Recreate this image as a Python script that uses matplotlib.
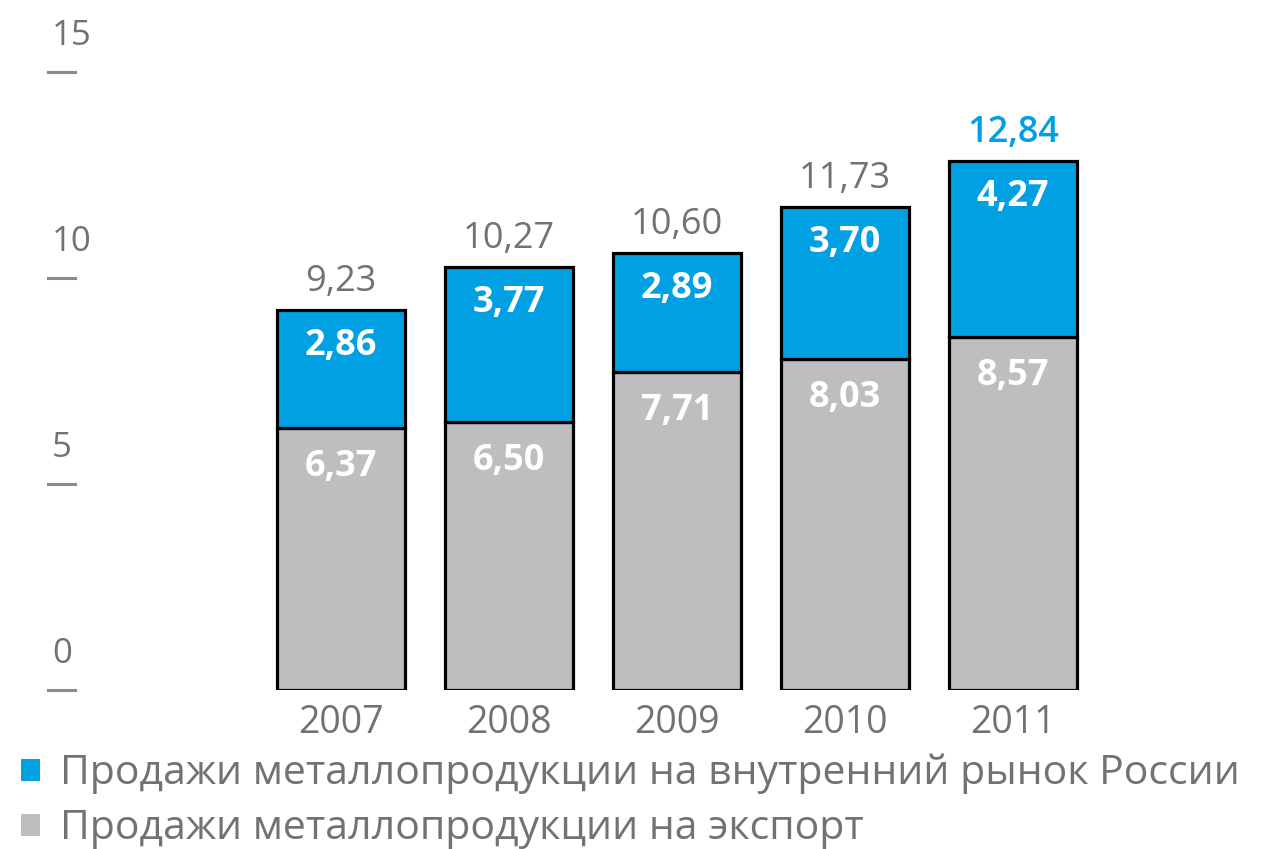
import matplotlib.pyplot as plt
from matplotlib.patches import Patch

# ==========================================================
# Data
# ==========================================================

years = ["2007", "2008", "2009", "2010", "2011"]
export_sales = [6.37, 6.50, 7.71, 8.03, 8.57]
domestic_sales = [2.86, 3.77, 2.89, 3.70, 4.27]
totals = [9.23, 10.27, 10.60, 11.73, 12.84]

y_ticks = [0, 5, 10, 15]

legend_labels = [
    "Продажи металлопродукции на внутренний рынок России",
    "Продажи металлопродукции на экспорт",
]

# ==========================================================
# Style
# ==========================================================

BLUE = "#00A0E3"
GRAY = "#BEBEC0"
TEXT_GRAY = "#727272"

plt.rcParams["font.family"] = ["Open Sans", "DejaVu Sans"]

fig = plt.figure(figsize=(12.64, 8.49), dpi=100)
ax = fig.add_axes([0, 0.1873, 1, 0.7279])

x = list(range(len(years)))
ax.set_xlim(-2.03, 5.494)
ax.set_ylim(0, 15)

ax.bar(x, export_sales, width=0.76, color=GRAY, edgecolor="black", linewidth=2.3, zorder=2)
ax.bar(x, domestic_sales, width=0.76, bottom=export_sales, color=BLUE,
       edgecolor="black", linewidth=2.3, zorder=2)

# segment labels
for i in x:
    ax.annotate(f"{export_sales[i]:.2f}".replace(".", ","), (i, export_sales[i]),
                xytext=(0, -39), textcoords="offset pixels", ha="center", va="center",
                color="white", fontsize=26, fontweight="bold", zorder=3)
    ax.annotate(f"{domestic_sales[i]:.2f}".replace(".", ","), (i, totals[i]),
                xytext=(0, -36), textcoords="offset pixels", ha="center", va="center",
                color="white", fontsize=26, fontweight="bold", zorder=3)
    last = i == len(x) - 1
    ax.annotate(f"{totals[i]:.2f}".replace(".", ","), (i, totals[i]),
                xytext=(0, 28), textcoords="offset pixels", ha="center", va="center",
                color=BLUE if last else TEXT_GRAY, fontsize=26,
                fontweight="semibold" if last else "normal", annotation_clip=False)

# year labels
for i in x:
    ax.annotate(years[i], (i, 0), xytext=(0, -33), textcoords="offset pixels",
                ha="center", va="center", color=TEXT_GRAY, fontsize=27,
                annotation_clip=False)

# y ticks: number above a short dash
for t in y_ticks:
    ax.axhline(t, xmin=0.038, xmax=0.059, color="#8A8A8A", linewidth=2.2, clip_on=False)
    ax.annotate(str(t), (0.041, t), xycoords=("axes fraction", "data"),
                xytext=(0, 36), textcoords="offset pixels", ha="left", va="center",
                color=TEXT_GRAY, fontsize=25, annotation_clip=False)

ax.axis("off")

handles = [
    Patch(facecolor=BLUE, edgecolor="none"),
    Patch(facecolor=GRAY, edgecolor="none"),
]
fig.legend(handles, legend_labels, loc="upper left",
           bbox_to_anchor=(0.017, 1 - 754 / 849), bbox_transform=fig.transFigure,
           frameon=False, fontsize=29.5, labelcolor=TEXT_GRAY,
           handlelength=0.45, handleheight=0.45, handletextpad=0.5,
           labelspacing=0.35, borderaxespad=0, borderpad=0)

fig.savefig("out.png", dpi=100)
